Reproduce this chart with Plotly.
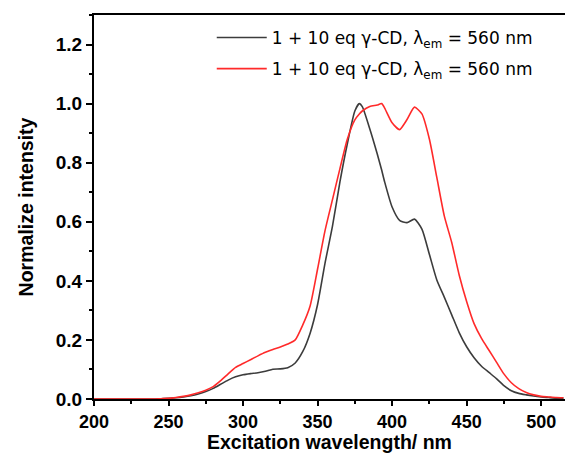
import plotly.graph_objects as go

wavelength = [200, 210, 220, 230, 240, 245, 250, 255, 260, 265, 270, 275, 280, 285, 290, 295,
              300, 305, 310, 315, 320, 325, 330, 335, 340, 345, 350, 355, 360, 365, 370, 375,
              378, 380, 385, 390, 393, 395, 400, 405, 410, 415, 420, 425, 430, 435, 440, 445,
              450, 455, 460, 465, 470, 475, 480, 485, 490, 495, 500, 505, 510, 515]

black_int = [0, 0, 0, 0, 0, 0.001, 0.002, 0.004, 0.007, 0.011, 0.017, 0.025, 0.036, 0.05, 0.064, 0.075,
             0.082, 0.086, 0.089, 0.094, 0.101, 0.102, 0.106, 0.122, 0.16, 0.223, 0.32, 0.46, 0.585, 0.735, 0.865, 0.975,
             1.0, 0.99, 0.915, 0.83, 0.775, 0.735, 0.65, 0.605, 0.597, 0.609, 0.575, 0.49, 0.403, 0.345, 0.285, 0.225,
             0.177, 0.14, 0.111, 0.09, 0.069, 0.045, 0.028, 0.019, 0.014, 0.01, 0.007, 0.005, 0.003, 0.002]

red_int = [0, 0, 0, 0, 0, 0.001, 0.002, 0.005, 0.009, 0.014, 0.021, 0.03, 0.042, 0.062, 0.085, 0.107,
           0.12, 0.133, 0.146, 0.158, 0.168, 0.176, 0.186, 0.2, 0.25, 0.315, 0.44, 0.57, 0.675, 0.78, 0.88, 0.945,
           0.965, 0.975, 0.99, 0.995, 1.0, 0.985, 0.935, 0.912, 0.946, 0.988, 0.965, 0.88, 0.75, 0.62, 0.53, 0.42,
           0.33, 0.255, 0.205, 0.165, 0.125, 0.085, 0.055, 0.035, 0.022, 0.014, 0.009, 0.007, 0.005, 0.004]

legend_label = "1 + 10 eq \u03b3-CD, \u03bb<sub>em</sub> = 560 nm"
x_title = "Excitation wavelength/ nm"
y_title = "Normalize intensity"
x_ticks = [200, 250, 300, 350, 400, 450, 500]
y_ticks = [0.0, 0.2, 0.4, 0.6, 0.8, 1.0, 1.2]

FONT = "Arial, 'Liberation Sans', sans-serif"
LEG_FONT = "'DejaVu Sans', Arial, sans-serif"

fig = go.Figure()
fig.add_trace(go.Scatter(x=wavelength, y=black_int, mode="lines", name=legend_label,
                         line=dict(color="#3c3c3c", width=1.6, shape="spline", smoothing=0.6),
                         legendgroup="a"))
fig.add_trace(go.Scatter(x=wavelength, y=red_int, mode="lines", name=legend_label,
                         line=dict(color="#ff2a2a", width=1.6, shape="spline", smoothing=0.6),
                         legendgroup="b"))

axis_common = dict(
    showline=True, linecolor="black", linewidth=2,
    ticks="outside", tickwidth=1.5, tickcolor="black",
    showgrid=False, zeroline=False, automargin=False,
)

fig.update_xaxes(
    range=[200, 516], tickvals=x_ticks, ticktext=[str(v) for v in x_ticks],
    mirror=True, ticklen=5, ticklabelstandoff=0,
    tickfont=dict(family=FONT, size=18, color="black", weight="bold"),
    minor=dict(ticks="outside", ticklen=3, tickwidth=1.5, tickcolor="black", dtick=25, tick0=225),
    **axis_common,
)
fig.update_yaxes(
    range=[0, 1.3], tickvals=y_ticks, ticktext=[f"{v:.1f}" for v in y_ticks],
    ticklen=6,
    tickfont=dict(family=FONT, size=19, color="black", weight="bold"),
    minor=dict(ticks="outside", ticklen=3, tickwidth=1.5, tickcolor="black", dtick=0.2, tick0=0.1),
    title=dict(text=y_title, standoff=17,
               font=dict(family=FONT, size=19.5, color="black", weight="bold")),
    **axis_common,
)

fig.add_annotation(
    text=x_title, xref="paper", yref="paper", x=0.5, y=-(441.5 - 399) / 384,
    xanchor="center", yanchor="middle", showarrow=False,
    font=dict(family=FONT, size=19.5, color="black", weight="bold"),
)

fig.update_layout(
    width=565, height=453,
    margin=dict(l=94, r=0, t=15, b=54),
    paper_bgcolor="white", plot_bgcolor="white",
    showlegend=True,
    legend=dict(x=0.25, y=0.987, xanchor="left", yanchor="top",
                bgcolor="rgba(0,0,0,0)", traceorder="grouped", tracegroupgap=6,
                itemwidth=50,
                font=dict(family=LEG_FONT, size=17, color="black")),
)

fig.write_html("out.html")
